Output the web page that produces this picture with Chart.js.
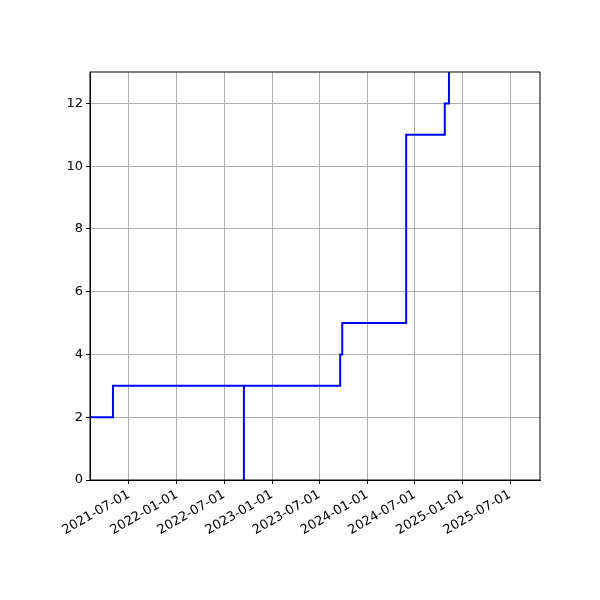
<!DOCTYPE html>
<html>
<head>
<meta charset="utf-8">
<script src="https://cdn.jsdelivr.net/npm/chart.js@4"></script>
<style>
  body { margin: 0; background: #fff; }
  #wrap { width: 600px; height: 600px; }
</style>
</head>
<body>
<div id="wrap"><canvas id="grafica" width="600" height="600"></canvas></div>
<script>
// step points (date, value); duplicates make the vertical steps
const fechas = ['2021-02-02', '2021-05-01', '2021-05-01', '2022-09-15', '2022-09-15', '2022-09-15',
    '2023-09-19', '2023-09-19', '2023-09-27', '2023-09-27', '2024-05-29', '2024-05-29',
    '2024-10-24', '2024-10-24', '2024-11-09', '2024-11-09'];
const valores = [2, 2, 3, 3, 0, 3, 3, 4, 4, 5, 5, 11, 11, 12, 12, 14];
const tickFechas = ['2021-07-01', '2022-01-01', '2022-07-01', '2023-01-01', '2023-07-01',
    '2024-01-01', '2024-07-01', '2025-01-01', '2025-07-01'];
const xMin = '2021-02-02';
const xMax = '2025-10-24';

function ts(s) { return Date.parse(s + 'T00:00:00Z'); }
function fmt(v) { return new Date(v).toISOString().slice(0, 10); }

const puntos = fechas.map(function (f, i) { return { x: ts(f), y: valores[i] }; });
const fuente = { family: 'DejaVu Sans', size: 13 };

const chart = new Chart(document.getElementById('grafica').getContext('2d'), {
    type: 'line',
    data: {
        datasets: [{
            data: puntos,
            borderColor: 'blue',
            borderWidth: 2,
            pointRadius: 0,
            fill: false,
            tension: 0
        }]
    },
    options: {
        responsive: false,
        animation: false,
        layout: { padding: { top: 72, right: 60, left: 0, bottom: 0 } },
        plugins: { legend: { display: false }, tooltip: { enabled: false } },
        scales: {
            x: {
                type: 'linear',
                min: ts(xMin),
                max: ts(xMax),
                afterBuildTicks: function (scale) {
                    scale.ticks = tickFechas.map(function (f) { return { value: ts(f) }; });
                },
                afterFit: function (scale) { scale.height = 120; },
                ticks: {
                    callback: function (v) { return fmt(v); },
                    maxRotation: 30, minRotation: 30,
                    color: '#000', font: fuente, autoSkip: false
                },
                grid: { color: '#b0b0b0', tickLength: 4, tickColor: '#000' },
                border: { color: '#000' }
            },
            y: {
                min: 0,
                max: 13,
                afterBuildTicks: function (scale) {
                    scale.ticks = [0, 2, 4, 6, 8, 10, 12].map(function (v) { return { value: v }; });
                },
                afterFit: function (scale) { scale.width = 90; },
                ticks: { color: '#000', font: fuente },
                grid: { color: '#b0b0b0', tickLength: 4, tickColor: '#000' },
                border: { color: '#000' }
            }
        }
    },
    plugins: [{
        id: 'marco',
        afterDraw: function (c) {
            const a = c.chartArea, ctx = c.ctx;
            ctx.save();
            ctx.strokeStyle = '#000';
            ctx.lineWidth = 1;
            ctx.strokeRect(a.left, a.top, a.right - a.left, a.bottom - a.top);
            ctx.restore();
        }
    }]
});
</script>
</body>
</html>
